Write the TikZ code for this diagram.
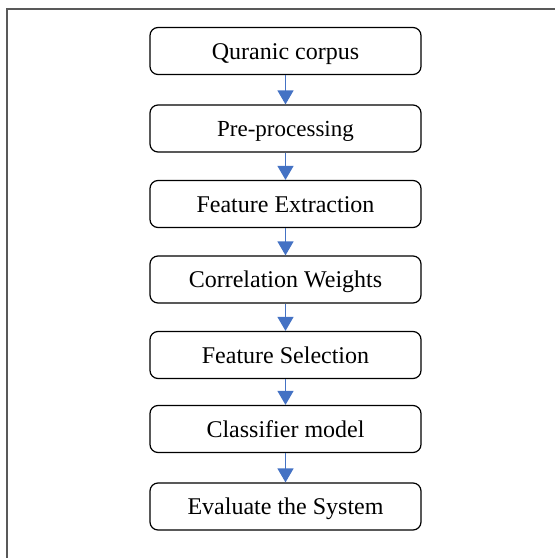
\documentclass[tikz,border=0pt]{standalone}
\usepackage{fontspec}
\setmainfont{Liberation Serif}
\usetikzlibrary{arrows.meta}
\definecolor{arrowblue}{HTML}{4472C4}
\begin{document}
\begin{tikzpicture}[x=0.5pt,y=-0.5pt,
  stage/.style={draw,rounded corners=4pt,line width=0.6pt,minimum width=135.5pt,minimum height=23.5pt,inner sep=0pt,text height=8pt,text depth=0pt,font=\fontsize{12}{14}\selectfont},
  flow/.style={arrowblue,line width=0.6pt,-{Triangle[width=8pt,length=7pt]}}]
    \useasboundingbox (0,0) rectangle (555,558);
    \draw [gray!70!black,line width=1pt] (7,558) -- (7,9) -- (555,9);
    \node[stage] (a) at (285.5,51) {Quranic corpus};
    \node[stage,font=\fontsize{11.5}{14}\selectfont] (b) at (285.5,128.5) {Pre-processing};
    \node[stage] (c) at (285.5,204) {Feature Extraction};
    \node[stage] (d) at (285.5,279.5) {Correlation Weights};
    \node[stage] (e) at (285.5,355) {Feature Selection};
    \node[stage] (f) at (285.5,429) {Classifier model};
    \node[stage] (g) at (285.5,506.5) {Evaluate the System};
    \draw [flow] (a) to (b);
    \draw [flow] (b) to (c);
    \draw [flow] (c) to (d);
    \draw [flow] (d) to (e);
    \draw [flow] (e) to (f);
    \draw [flow] (f) to (g);
\end{tikzpicture}
\end{document}
